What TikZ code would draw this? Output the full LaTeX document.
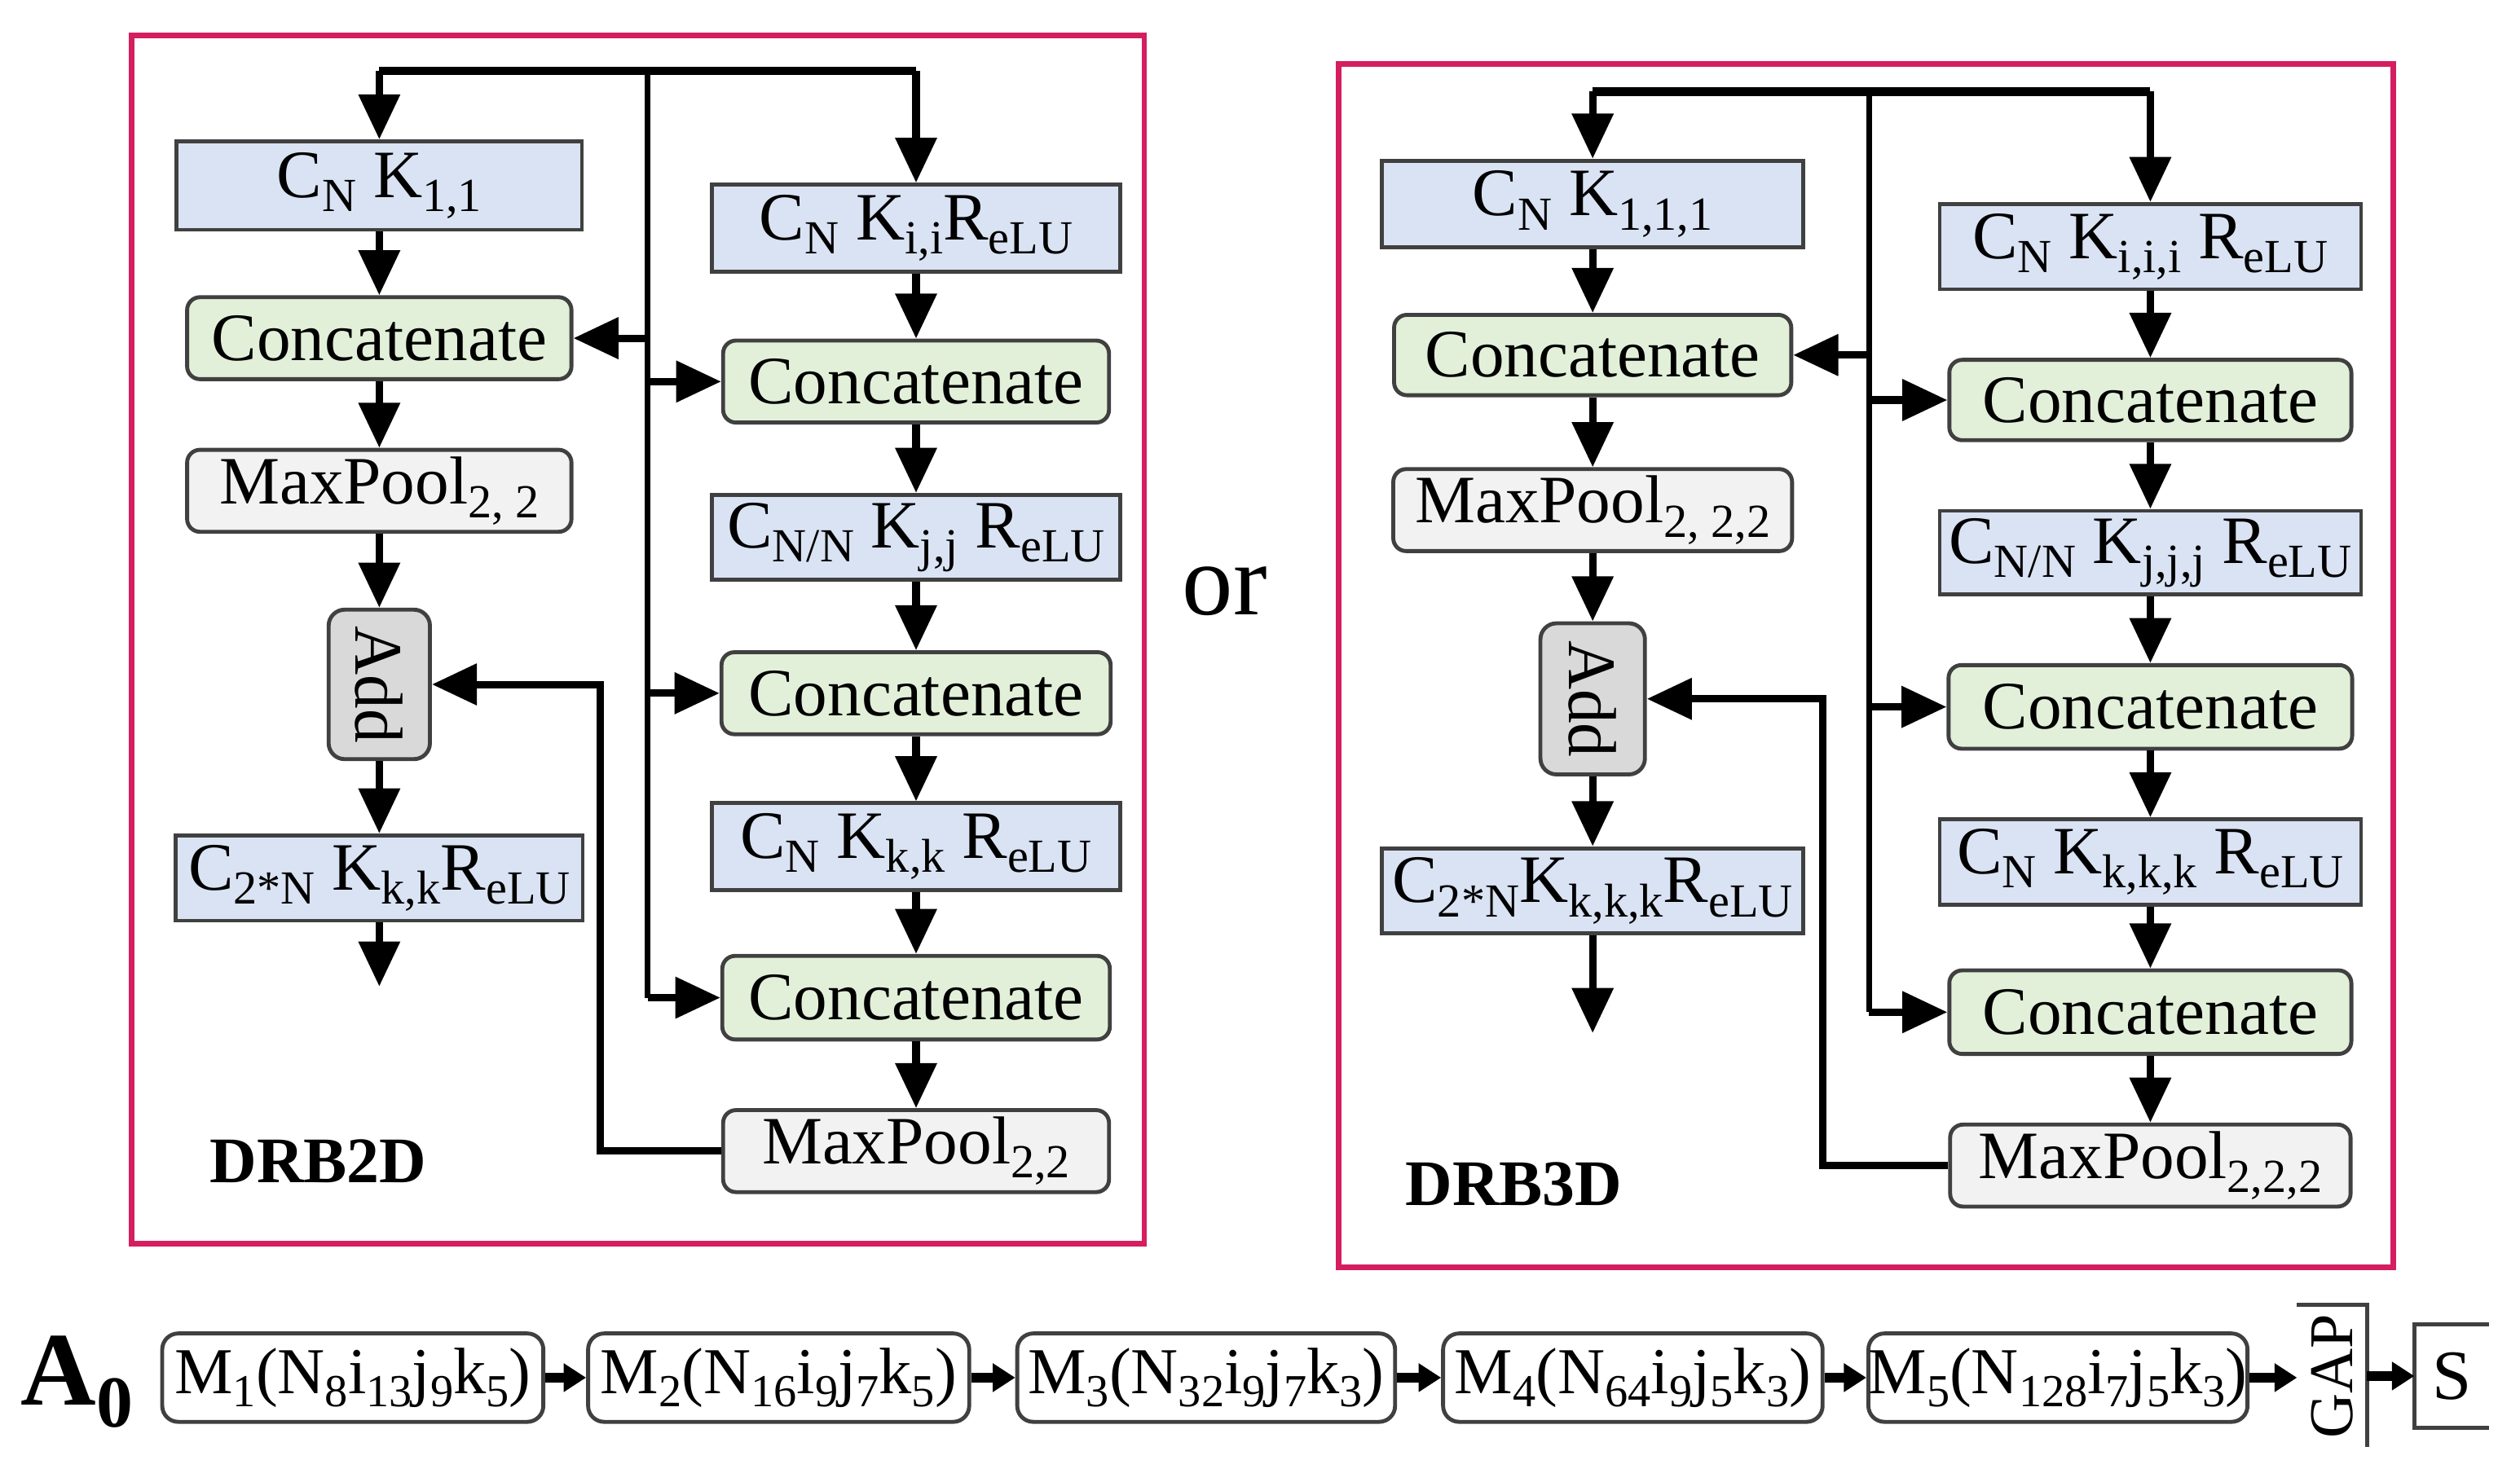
\documentclass[tikz,border=0pt]{standalone}
\usepackage{fontspec}
\setmainfont{Liberation Serif}
\usetikzlibrary{arrows.meta}
\newcommand\lo[1]{\raisebox{-0.45ex}{\scalebox{0.7}{#1}}}
\definecolor{convblue}{HTML}{DAE3F3}
\definecolor{catgreen}{HTML}{E2F0D9}
\definecolor{poolgray}{HTML}{F2F2F2}
\definecolor{addgray}{HTML}{D9D9D9}
\definecolor{framecol}{HTML}{D41E5F}
\begin{document}
\begin{tikzpicture}[x=0.01cm,y=-0.01cm,
  base/.style={draw=black!75, line width=0.7pt, inner sep=0pt, font=\fontsize{12}{14}\selectfont},
  conv/.style={base, fill=convblue},
  cat/.style={base, fill=catgreen, rounded corners=0.08cm},
  pool/.style={base, fill=poolgray, rounded corners=0.08cm},
  addbox/.style={base, fill=addgray, rounded corners=0.1cm, minimum width=0.63cm, minimum height=0.93cm},
  mbox/.style={base, fill=white, rounded corners=0.1cm, minimum height=0.55cm, font=\fontsize{11.6}{14}\selectfont},
  arr/.style={-{Triangle[length=0.28cm,width=0.25cm]}, line width=1.3pt},
  sarr/.style={-{Triangle[length=0.14cm,width=0.17cm]}, line width=1.7pt},
  bus/.style={line width=1.5pt},
  vbus/.style={line width=1pt},
  frm/.style={draw=framecol, line width=1pt},
  lbl/.style={font=\fontsize{11.5}{13}\selectfont\bfseries}]
\useasboundingbox (0,0) rectangle (1568,922);

% ---------------- DRB2D ----------------
\draw[frm] (82,22) rectangle (712,774);
\node[conv, minimum width=2.52cm, minimum height=0.55cm] (c11) at (236,115.5) {C\lo{N} K\lo{1,1}};
\node[cat, minimum width=2.39cm, minimum height=0.51cm] (cat1) at (236,210.5) {Concatenate};
\node[pool, minimum width=2.39cm, minimum height=0.51cm] (mp1) at (236,305.5) {MaxPool\lo{2, 2}};
\node[addbox] (add) at (236,426) {\rotatebox{-90}{Add}};
\node[conv, minimum width=2.53cm, minimum height=0.53cm] (c2n) at (236,546.5) {C\lo{2*N} K\lo{k,k}R\lo{eLU}};
\coordinate (out1) at (236,614);

\node[conv, minimum width=2.54cm, minimum height=0.54cm] (r1) at (570,142) {C\lo{N} K\lo{i,i}R\lo{eLU}};
\node[cat, minimum width=2.40cm, minimum height=0.51cm] (rc1) at (570,237.5) {Concatenate};
\node[conv, minimum width=2.54cm, minimum height=0.53cm] (r2) at (570,334.5) {C\lo{N/N} K\lo{j,j} R\lo{eLU}};
\node[cat, minimum width=2.42cm, minimum height=0.51cm] (rc2) at (570,431.5) {Concatenate};
\node[conv, minimum width=2.54cm, minimum height=0.54cm] (r3) at (570,527) {C\lo{N} K\lo{k,k} R\lo{eLU}};
\node[cat, minimum width=2.41cm, minimum height=0.52cm] (rc3) at (570,621) {Concatenate};
\node[pool, minimum width=2.40cm, minimum height=0.51cm] (mp2) at (570,716.5) {MaxPool\lo{2,2}};

\coordinate (busA) at (403,44);
\draw[bus] (c11.north |- busA) -- (r1.north |- busA);
\draw[vbus] (busA) -- (busA |- rc3.west);
\draw[arr] (c11.north |- busA) -- (c11.north);
\draw[arr] (r1.north |- busA) -- (r1.north);
\draw[arr] (busA |- cat1.east) -- (cat1.east);
\draw[arr] (busA |- rc1.west) -- (rc1.west);
\draw[arr] (busA |- rc2.west) -- (rc2.west);
\draw[arr] (busA |- rc3.west) -- (rc3.west);
\draw[arr] (c11) -- (cat1);
\draw[arr] (cat1) -- (mp1);
\draw[arr] (mp1) -- (add);
\draw[arr] (add) -- (c2n);
\draw[arr] (c2n.south) -- (out1);
\draw[arr] (r1) -- (rc1);
\draw[arr] (rc1) -- (r2);
\draw[arr] (r2) -- (rc2);
\draw[arr] (rc2) -- (r3);
\draw[arr] (r3) -- (rc3);
\draw[arr] (rc3) -- (mp2);
\draw[arr] (mp2.west) -- ++(-75,0) |- (add.east);
\node[lbl] (lab2) at (198,723) {DRB2D};

\node[font=\fontsize{18}{20}\selectfont] (or) at (762,368) {or};

% ---------------- DRB3D ----------------
\draw[frm] (833,40) rectangle (1489,789);
\node[conv, minimum width=2.62cm, minimum height=0.54cm] (d11) at (991,127) {C\lo{N} K\lo{1,1,1}};
\node[cat, minimum width=2.47cm, minimum height=0.50cm] (dcat1) at (991,221) {Concatenate};
\node[pool, minimum width=2.48cm, minimum height=0.51cm] (dmp1) at (991,317.5) {MaxPool\lo{2, 2,2}};
\node[addbox, minimum width=0.65cm, minimum height=0.94cm] (dadd) at (991,435) {\rotatebox{-90}{Add}};
\node[conv, minimum width=2.62cm, minimum height=0.53cm] (d2n) at (991,554.5) {C\lo{2*N}K\lo{k,k,k}R\lo{eLU}};
\coordinate (out2) at (991,643);

\node[conv, minimum width=2.62cm, minimum height=0.53cm] (s1) at (1338,153.5) {C\lo{N} K\lo{i,i,i} R\lo{eLU}};
\node[cat, minimum width=2.50cm, minimum height=0.50cm] (sc1) at (1338,249) {Concatenate};
\node[conv, minimum width=2.62cm, minimum height=0.52cm] (s2) at (1338,344) {C\lo{N/N} K\lo{j,j,j} R\lo{eLU}};
\node[cat, minimum width=2.51cm, minimum height=0.52cm] (sc2) at (1338,440) {Concatenate};
\node[conv, minimum width=2.62cm, minimum height=0.53cm] (s3) at (1338,536.5) {C\lo{N} K\lo{k,k,k} R\lo{eLU}};
\node[cat, minimum width=2.50cm, minimum height=0.52cm] (sc3) at (1338,630) {Concatenate};
\node[pool, minimum width=2.49cm, minimum height=0.51cm] (smp) at (1338,725.5) {MaxPool\lo{2,2,2}};

\coordinate (busB) at (1163,57);
\draw[bus] (d11.north |- busB) -- (s1.north |- busB);
\draw[vbus] (busB) -- (busB |- sc3.west);
\draw[arr] (d11.north |- busB) -- (d11.north);
\draw[arr] (s1.north |- busB) -- (s1.north);
\draw[arr] (busB |- dcat1.east) -- (dcat1.east);
\draw[arr] (busB |- sc1.west) -- (sc1.west);
\draw[arr] (busB |- sc2.west) -- (sc2.west);
\draw[arr] (busB |- sc3.west) -- (sc3.west);
\draw[arr] (d11) -- (dcat1);
\draw[arr] (dcat1) -- (dmp1);
\draw[arr] (dmp1) -- (dadd);
\draw[arr] (dadd) -- (d2n);
\draw[arr] (d2n.south) -- (out2);
\draw[arr] (s1) -- (sc1);
\draw[arr] (sc1) -- (s2);
\draw[arr] (s2) -- (sc2);
\draw[arr] (sc2) -- (s3);
\draw[arr] (s3) -- (sc3);
\draw[arr] (sc3) -- (smp);
\draw[arr] (smp.west) -- ++(-78,0) |- (dadd.east);
\node[lbl] (lab3) at (942,737) {DRB3D};

% ---------------- bottom row ----------------
\node[font=\fontsize{18.5}{20}\selectfont\bfseries] (a0) at (48,860) {A\lo{0}};
\node[mbox, minimum width=2.37cm] (m1) at (219.5,857.5) {M\lo{1}(N\lo{8}i\lo{13}j\lo{9}k\lo{5})};
\node[mbox, minimum width=2.37cm] (m2) at (484.5,857.5) {M\lo{2}(N\lo{16}i\lo{9}j\lo{7}k\lo{5})};
\node[mbox, minimum width=2.35cm] (m3) at (750.5,857.5) {M\lo{3}(N\lo{32}i\lo{9}j\lo{7}k\lo{3})};
\node[mbox, minimum width=2.36cm] (m4) at (1016,857.5) {M\lo{4}(N\lo{64}i\lo{9}j\lo{5}k\lo{3})};
\node[mbox, minimum width=2.35cm] (m5) at (1280.5,857.5) {M\lo{5}(N\lo{128}i\lo{7}j\lo{5}k\lo{3})};
\node[inner sep=0pt, minimum width=0.42cm, minimum height=0.87cm, font=\fontsize{11}{12}\selectfont] (gap) at (1451,856.5) {\rotatebox{90}{GAP}};
\node[inner sep=0pt, minimum width=0.45cm, minimum height=0.63cm, font=\fontsize{12.5}{14}\selectfont] (s) at (1525.5,856.5) {S};
\draw[black!75, line width=0.7pt] (gap.north west) -- (gap.north east) -- (gap.south east);
\draw[black!75, line width=0.7pt] (s.north east) -- (s.north west) -- (s.south west) -- (s.south east);
\draw[sarr] (m1) -- (m2);
\draw[sarr] (m2) -- (m3);
\draw[sarr] (m3) -- (m4);
\draw[sarr] (m4) -- (m5);
\draw[sarr] (m5.east) -- (gap.west |- m5.east);
\draw[sarr] (gap.east |- s.west) -- (s.west);
\end{tikzpicture}
\end{document}
